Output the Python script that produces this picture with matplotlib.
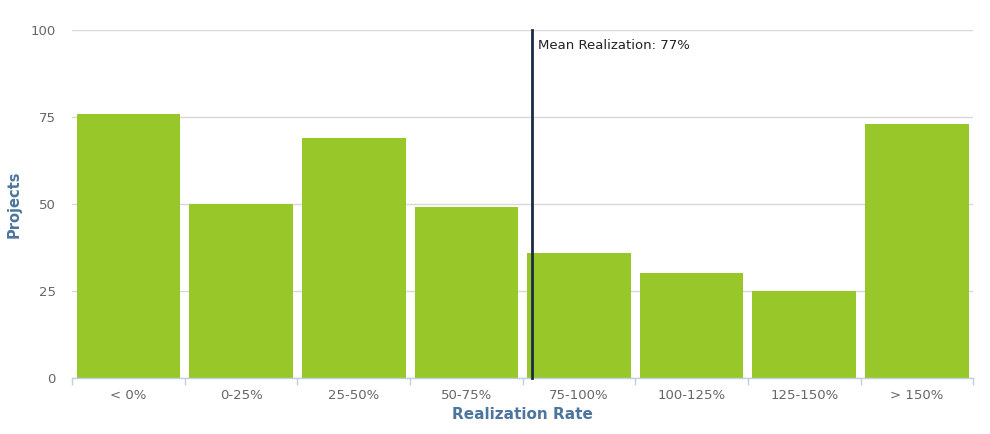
import matplotlib.pyplot as plt
import numpy as np

# Projects per realization-rate bucket
categories = ['< 0%', '0-25%', '25-50%', '50-75%', '75-100%', '100-125%', '125-150%', '> 150%']
projects = [76, 50, 69, 49, 36, 30, 25, 73]
bucket_starts = [None, 0, 25, 50, 75, 100, 125, 150]
mean_realization = 77
y_ticks = [0, 25, 50, 75, 100]

BAR_COLOR = '#98c72a'
TITLE_COLOR = '#4d759e'
LABEL_COLOR = '#666666'
GRID_COLOR = '#d8d8d8'
AXIS_COLOR = '#c0d0e0'


def mean_position(value):
    # map a percentage onto the category axis (each bucket is 25% wide)
    idx = bucket_starts.index(75)
    return idx - 0.5 + (value - bucket_starts[idx]) / 25.0


def main():
    fig = plt.figure(figsize=(9.9, 4.34), dpi=100)
    ax = fig.add_axes([0.073, 0.13, 0.910, 0.80])

    x = np.arange(len(categories))
    ax.bar(x, projects, width=0.92, color=BAR_COLOR, zorder=2)

    ax.set_xlim(-0.5, len(categories) - 0.5)
    ax.set_ylim(0, 100)
    ax.set_yticks(y_ticks)
    ax.yaxis.grid(True, color=GRID_COLOR, linewidth=1, zorder=0)
    ax.set_axisbelow(True)

    for side in ['top', 'right', 'left']:
        ax.spines[side].set_visible(False)
    ax.spines['bottom'].set_color(AXIS_COLOR)
    ax.spines['bottom'].set_linewidth(1)

    # category tick marks sit between the columns
    ax.set_xticks(x)
    ax.set_xticklabels(categories)
    ax.set_xticks(np.arange(len(categories) + 1) - 0.5, minor=True)
    ax.tick_params(axis='x', which='major', length=0, pad=8, labelsize=9.5, labelcolor=LABEL_COLOR)
    ax.tick_params(axis='x', which='minor', length=5, color=AXIS_COLOR, width=1)
    ax.tick_params(axis='y', length=0, pad=12, labelsize=9.5, labelcolor=LABEL_COLOR)

    # mean marker line
    mx = mean_position(mean_realization)
    ax.plot([mx, mx], [0, 100], color='#1c2b45', linewidth=2, zorder=4, clip_on=False)
    ax.text(mx + 0.06, 97.5, f'Mean Realization: {mean_realization}%', fontsize=9.5,
            color='#222222', va='top', ha='left', zorder=5)

    ax.set_ylabel('Projects', color=TITLE_COLOR, fontsize=10.5, fontweight='bold', labelpad=6)
    ax.set_xlabel('Realization Rate', color=TITLE_COLOR, fontsize=11, fontweight='bold', labelpad=4)

    fig.savefig('out.png', dpi=100, facecolor='white')


if __name__ == '__main__':
    main()
